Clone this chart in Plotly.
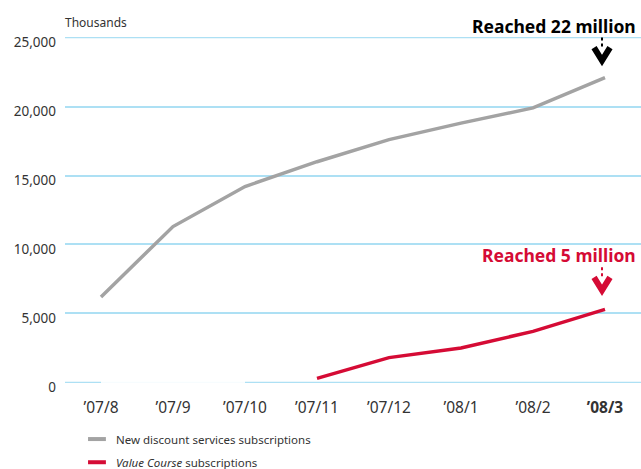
import plotly.graph_objects as go

months = ["’07/8", "’07/9", "’07/10", "’07/11", "’07/12", "’08/1", "’08/2", "’08/3"]
tick_labels = ["’07/8", "’07/9", "’07/10", "’07/11", "’07/12", "’08/1", "’08/2", "<b>’08/3</b>"]
discount_subs = [6200, 11300, 14200, 16000, 17600, 18800, 19900, 22100]
value_course = [0, 0, 0, 300, 1800, 2500, 3700, 5300]
y_ticks = [0, 5000, 10000, 15000, 20000, 25000]

GREY = "#a3a3a3"
RED = "#d50b35"
GRID = "#ade0f4"
FONT = "Noto Sans"
idx = list(range(len(months)))
Y_MIN, Y_MAX = -40, 25040

fig = go.Figure()
# edge gridlines (plotly omits grid at the very edges)
for yv in (y_ticks[0], y_ticks[-1]):
    fig.add_shape(type="line", xref="paper", yref="y", x0=0, x1=1, y0=yv, y1=yv,
                  line=dict(color=GRID, width=1.6), layer="below")

# faint zero-run of the Value Course series
fig.add_trace(go.Scatter(x=idx[:3], y=value_course[:3], mode="lines",
                         line=dict(color="rgba(255,255,255,0.9)", width=3),
                         hoverinfo="skip", showlegend=False))
fig.add_trace(go.Scatter(x=idx, y=discount_subs, mode="lines",
                         line=dict(color=GREY, width=3.5),
                         name="New discount services subscriptions", showlegend=False))
fig.add_trace(go.Scatter(x=idx[3:], y=value_course[3:], mode="lines",
                         line=dict(color=RED, width=3.5),
                         name="Value Course subscriptions", showlegend=False))

PX_X = 1 / 72.3                      # data units per pixel (x)
PX_Y = (Y_MAX - Y_MIN) / 346.0       # data units per pixel (y)

def to_paper_y(v):
    return (v - Y_MIN) / (Y_MAX - Y_MIN)

def to_paper_x(v):
    return (v + 0.5) / 8.0

def marker(xi, yv, color, label, tip_px, top_px, dot_top_px, dot_bot_px, text_px):
    cx = xi - 3 * PX_X
    tip = yv + tip_px * PX_Y
    top = yv + top_px * PX_Y
    fig.add_shape(type="path",
                  path=f"M {cx - 8*PX_X},{top} L {cx},{tip} L {cx + 8*PX_X},{top}",
                  line=dict(color=color, width=6), xref="x", yref="y")
    fig.add_shape(type="line", x0=cx, x1=cx,
                  y0=yv + dot_top_px * PX_Y, y1=yv + dot_bot_px * PX_Y,
                  line=dict(color=color, width=2, dash="dot"), xref="x", yref="y")
    fig.add_annotation(x=to_paper_x(xi + 33 * PX_X), y=to_paper_y(yv + text_px * PX_Y),
                       xref="paper", yref="paper", text=f"<b>{label}</b>", showarrow=False,
                       xanchor="right", yanchor="middle",
                       font=dict(family=FONT, size=17.5, color=color))

marker(idx[-1], discount_subs[-1], "#000000", "Reached 22 million", 17, 30, 40, 31, 52)
marker(idx[-1], value_course[-1], RED, "Reached 5 million", 19, 32, 42, 33, 54)

fig.add_annotation(x=-0.003, y=1.043, xref="paper", yref="paper", text="Thousands",
                   showarrow=False, xanchor="left", yanchor="middle",
                   font=dict(family=FONT, size=12, color="#333333"))

# manual legend
legend_items = [("New discount services subscriptions", GREY, -0.162),
                ("<i>Value Course</i> subscriptions", RED, -0.229)]
for label, color, yp in legend_items:
    fig.add_shape(type="line", x0=0.040, x1=0.071, y0=yp, y1=yp, xref="paper", yref="paper",
                  line=dict(color=color, width=4))
    fig.add_annotation(x=0.085, y=yp, xref="paper", yref="paper", text=label, showarrow=False,
                       xanchor="left", yanchor="middle",
                       font=dict(family=FONT, size=11.5, color="#333333"))

fig.update_layout(
    width=641, height=469,
    margin=dict(l=65, r=0, t=37, b=86),
    paper_bgcolor="white", plot_bgcolor="white",
    showlegend=False,
    font=dict(family=FONT, color="#333333"),
    xaxis=dict(range=[-0.5, 7.5], tickvals=idx, ticktext=tick_labels, showgrid=False,
               zeroline=False, showline=False, ticks="", ticklabelstandoff=13,
               tickfont=dict(family=FONT, size=15.5, color="#333333"), fixedrange=True),
    yaxis=dict(range=[Y_MIN, Y_MAX], tickvals=y_ticks, tickformat=",", showgrid=True,
               gridcolor=GRID, gridwidth=1.6, zeroline=False, showline=False, ticks="",
               ticklabelstandoff=8, ticklabelshift=5,
               tickfont=dict(family=FONT, size=13.5, color="#333333"),
               fixedrange=True),
)

fig.write_html("out.html")
